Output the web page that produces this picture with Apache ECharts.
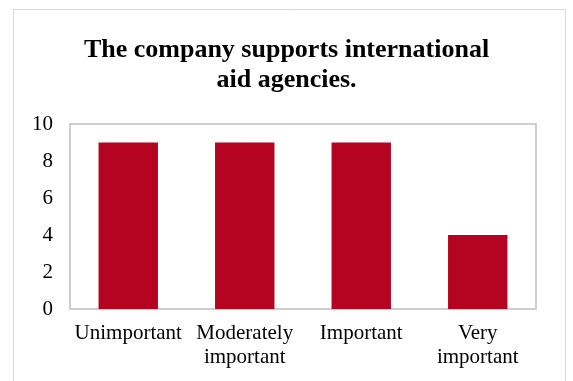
<!DOCTYPE html>
<html>
<head>
<meta charset="utf-8">
<script src="https://cdn.jsdelivr.net/npm/echarts@6/dist/echarts.min.js"></script>
<style>
  html, body { margin: 0; padding: 0; background: #fff; }
  #chart { width: 573px; height: 381px; }
</style>
</head>
<body>
<div id="chart"></div>
<script>
// Survey responses: how important is it that the company supports aid agencies
const categories = ['Unimportant', 'Moderately\nimportant', 'Important', 'Very\nimportant'];
const counts = [9, 9, 9, 4];
const yTicks = [0, 2, 4, 6, 8, 10];

const FONT = '"Liberation Serif", "Times New Roman", serif';

const chart = echarts.init(document.getElementById('chart'), null, { renderer: 'canvas' });
chart.setOption({
  animation: false,
  backgroundColor: '#ffffff',
  title: {
    text: 'The company supports international\naid agencies.',
    left: 'center',
    top: 30,
    textStyle: {
      fontFamily: FONT,
      fontWeight: 'bold',
      fontSize: 26,
      lineHeight: 30,
      color: '#000'
    }
  },
  graphic: [{
    type: 'rect',
    shape: { x: 13.5, y: 9.5, width: 552, height: 380 },
    style: { fill: 'none', stroke: '#d9d9d9', lineWidth: 1 },
    silent: true,
    z: -1
  }],
  grid: {
    left: 70, right: 37, top: 124, bottom: 72,
    show: true,
    borderColor: '#bfbfbf',
    borderWidth: 1.5,
    backgroundColor: 'transparent'
  },
  xAxis: {
    type: 'category',
    data: categories,
    axisLine: { show: false },
    axisTick: { show: false },
    axisLabel: {
      fontFamily: FONT,
      fontSize: 21,
      lineHeight: 24,
      color: '#000',
      margin: 12,
      interval: 0
    }
  },
  yAxis: {
    type: 'value',
    min: yTicks[0],
    max: yTicks[yTicks.length - 1],
    interval: 2,
    axisLine: { show: false },
    axisTick: { show: false },
    splitLine: { show: false },
    axisLabel: {
      fontFamily: FONT,
      fontSize: 21,
      color: '#000',
      margin: 17
    }
  },
  series: [{
    type: 'bar',
    data: counts,
    barWidth: '51%',
    itemStyle: { color: '#b40422' }
  }]
});
</script>
</body>
</html>
